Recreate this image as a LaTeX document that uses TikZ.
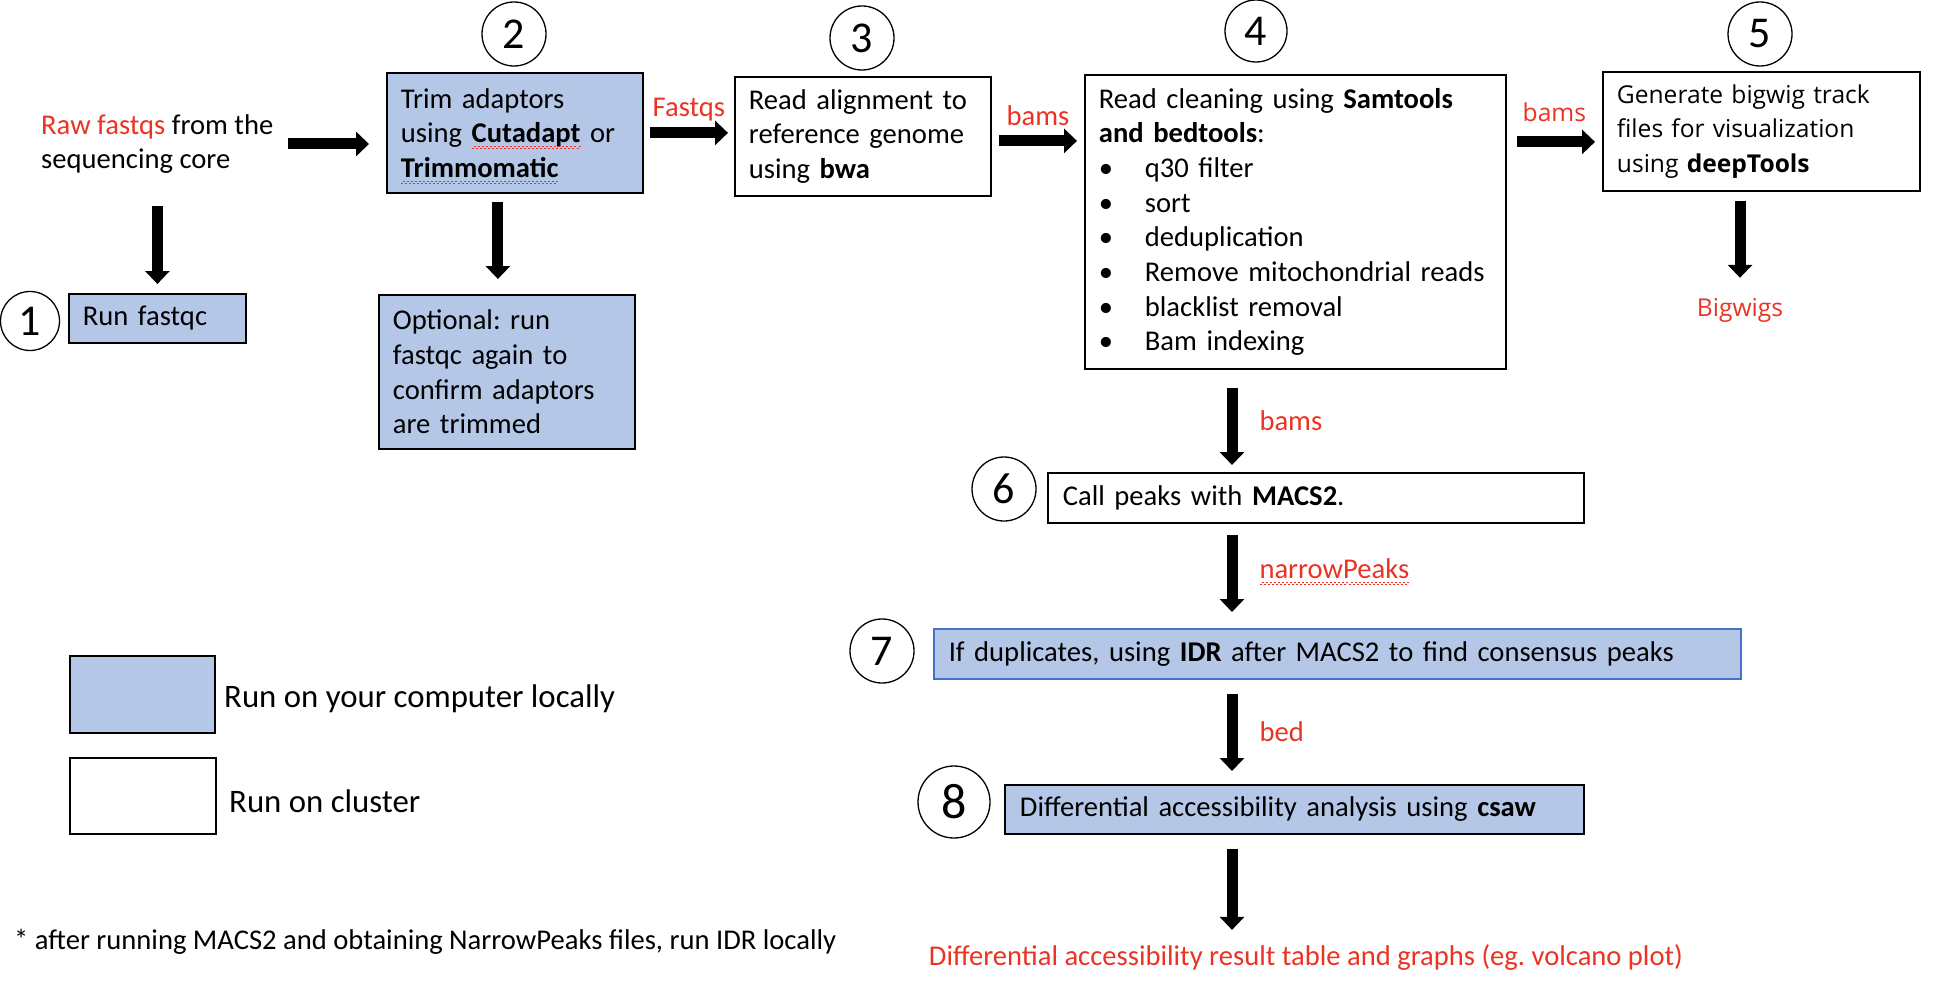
\documentclass[tikz,border=0pt]{standalone}
\usepackage{fontspec}
\setmainfont{Carlito}
\newfontfamily\opensans{Open Sans}
\usetikzlibrary{arrows.meta}

\definecolor{localblue}{RGB}{180,199,231}
\definecolor{accred}{RGB}{234,51,35}
\definecolor{idrblue}{RGB}{68,114,196}

\newsavebox\wavebox
\newcommand\spellwave[1]{\leavevmode\sbox\wavebox{#1}\rlap{\usebox\wavebox}%
  \smash{\raisebox{-6pt}{\color{accred}\hbox to \wd\wavebox{\xleaders\hbox{\rule{2pt}{0.8pt}\raisebox{1.5pt}{\rule{2pt}{0.8pt}}}\hfil}}}}
\newcommand\bul{\makebox[46pt][l]{\textbullet}}
\frenchspacing

\begin{document}
\begin{tikzpicture}[x=1pt, y=-1pt,
  every node/.style = {font=\fontsize{28.6}{34.7}\selectfont},
  stepbox/.style = {draw, line width=1.8pt, anchor=north west, align=left,
    inner xsep=14pt, inner ysep=0pt},
  localbox/.style = {stepbox, fill=localblue},
  num/.style = {circle, draw, line width=1.3pt, inner sep=0pt,
    minimum size=64pt, font=\fontsize{44}{44}\selectfont},
  fat/.style = {line width=11pt, -{Triangle[length=13pt, width=24pt]}},
  lbl/.style = {text=accred, inner sep=2pt},
  osans/.style = {font=\opensans\fontsize{24.6}{34.7}\selectfont}]
  \useasboundingbox (0,0) rectangle (1942,1008);

  \node[num, minimum size=59pt] (n1) at (30,321) {1};
  \node[num] (n2) at (514,34) {2};
  \node[num] (n3) at (862,38) {3};
  \node[num, minimum size=62pt] (n4) at (1256,31) {4};
  \node[num] (n5) at (1760,34) {5};
  \node[num] (n6) at (1004,489) {6};
  \node[num] (n7) at (882,651) {7};
  \node[num, minimum size=72pt, font=\fontsize{50}{50}\selectfont] (n8) at (954,802) {8};

  \node[anchor=west, align=left, inner sep=0pt] (raw) at (41,144)
    {\textcolor{accred}{Raw fastqs} from the\\sequencing core};
  \node[localbox, minimum width=177pt, minimum height=49pt, text width=149pt] (fastqc) at (68,293) {Run fastqc};
  \node[localbox, minimum width=256pt, minimum height=120pt, text width=228pt] (trim) at (386,72)
    {Trim adaptors\\using \spellwave{\textbf{Cutadapt}} or\\\spellwave{\textbf{Trimmomatic}}};
  \node[localbox, minimum width=256pt, minimum height=154pt, text width=228pt] (opt) at (378,294)
    {Optional: run\\fastqc again to\\confirm adaptors\\are trimmed};
  \node[stepbox, minimum width=256pt, minimum height=119pt, text width=228pt] (align) at (734,76)
    {Read alignment to\\reference genome\\using \textbf{bwa}};
  \node[stepbox, minimum width=421pt, minimum height=294pt, text width=393pt] (clean) at (1084,74)
    {Read cleaning using \textbf{Samtools}\\\textbf{and bedtools}:\\\bul q30 filter\\\bul sort\\\bul deduplication\\\bul Remove mitochondrial reads\\\bul blacklist removal\\\bul Bam indexing};
  \node[stepbox, osans, minimum width=317pt, minimum height=119pt, text width=289pt] (bigwig) at (1602,71)
    {Generate bigwig track\\files for visualization\\using \textbf{deepTools}};
  \node[lbl, osans] (bigwigs) at (1740,310) {Bigwigs};
  \node[stepbox, minimum width=536pt, minimum height=50pt, text width=506pt] (macs) at (1047,472)
    {Call peaks with \textbf{MACS2}.};
  \node[localbox, draw=idrblue, line width=1.5pt, minimum width=807pt, minimum height=50pt, text width=777pt] (idr) at (933,628)
    {If duplicates, using \textbf{IDR} after MACS2 to find consensus peaks};
  \node[localbox, minimum width=579pt, minimum height=49pt, text width=549pt] (csaw) at (1004,784)
    {Differential accessibility analysis using \textbf{csaw}};
  \node[lbl, inner sep=0pt] (result) at (1306,957)
    {Differential accessibility result table and graphs (eg. volcano plot)};

  \node[localbox, minimum width=145pt, minimum height=77pt] (keylocal) at (69,655) {};
  \node[stepbox, minimum width=146pt, minimum height=76pt] (keycluster) at (69,757) {};
  \node[anchor=west, inner sep=0pt, font=\fontsize{32.8}{40}\selectfont] (keylocaltext) at (224,699) {Run on your computer locally};
  \node[anchor=west, inner sep=0pt, font=\fontsize{32.8}{40}\selectfont] (keyclustertext) at (229,801) {Run on cluster};
  \node[anchor=west, inner sep=0pt] (note) at (14,942)
    {* after running MACS2 and obtaining NarrowPeaks files, run IDR locally};

  \coordinate (spine) at (1232,0);
  \draw[fat, shorten <=15pt, shorten >=17pt] (raw.east) -- (raw.east -| trim.west);
  \draw[fat, shorten <=32pt, shorten >=9pt] (raw.south -| fastqc.north) -- (fastqc.north);
  \draw[fat, shorten <=8pt, shorten >=15pt] ([xshift=-17pt]trim.south) -- ([xshift=-17pt]trim.south |- opt.north);
  \draw[fat, shorten <=6pt, shorten >=6pt] (trim.east) -- (trim.east -| align.west)
    node[lbl, midway, yshift=23pt] {Fastqs};
  \draw[fat, shorten <=7pt, shorten >=7pt] ([yshift=-4.5pt]align.east) -- ([yshift=-4.5pt]align.east -| clean.west)
    node[lbl, midway, yshift=25pt] {bams};
  \draw[fat, shorten <=10pt, shorten >=7pt] ([yshift=-10.5pt]bigwig.west -| clean.east) -- ([yshift=-10.5pt]bigwig.west)
    node[lbl, osans, midway, yshift=30pt] {bams};
  \draw[fat, shorten <=9pt, shorten >=18pt] (bigwigs.north |- bigwig.south) -- (bigwigs.north);
  \draw[fat, shorten <=18pt, shorten >=7pt] (spine |- clean.south) -- (spine |- macs.north)
    node[lbl, midway, anchor=west, xshift=20pt] {bams};
  \draw[fat, shorten <=11pt, shorten >=16pt] (spine |- macs.south) -- (spine |- idr.north)
    node[lbl, midway, anchor=west, xshift=20pt, yshift=7pt] {\spellwave{narrowPeaks}};
  \draw[fat, shorten <=14pt, shorten >=13pt] (spine |- idr.south) -- (spine |- csaw.north)
    node[lbl, midway, anchor=west, xshift=20pt] {bed};
  \draw[fat, shorten <=14pt, shorten >=14pt] (spine |- csaw.south) -- (spine |- result.north);
\end{tikzpicture}
\end{document}
